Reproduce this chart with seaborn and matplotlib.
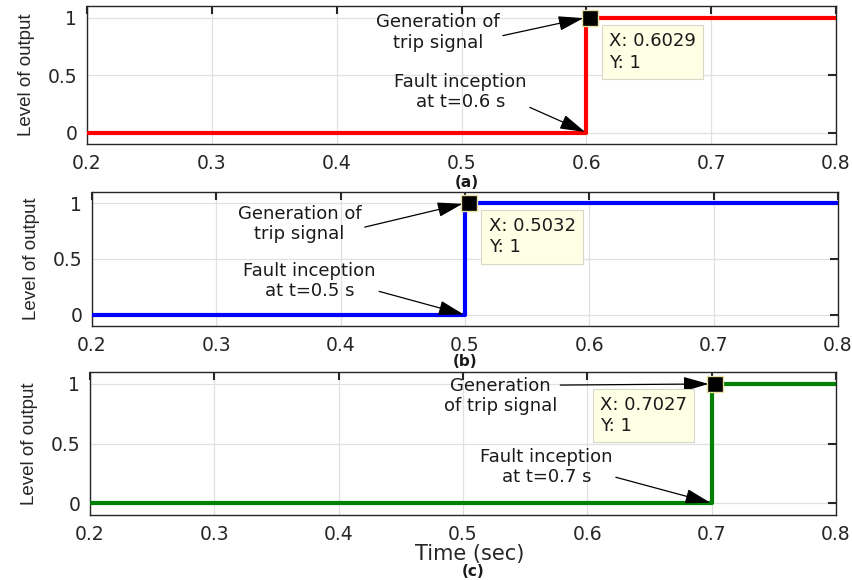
import matplotlib
matplotlib.use("Agg")
import matplotlib.pyplot as plt
import seaborn as sns
import pandas as pd

sns.set_style("white")
plt.rcParams['font.family'] = ['DejaVu Sans']

# ---- data ----
panel_labels = ["(a)", "(b)", "(c)"]
colors = ["#ff0000", "#0000ff", "#008000"]
fault_times = [0.6, 0.5, 0.7]
trip_times = [0.6029, 0.5032, 0.7027]
t_start = 0.2
t_end = 0.8
level_before = 0
level_after = 1
xticks = [0.2, 0.3, 0.4, 0.5, 0.6, 0.7, 0.8]
yticks = [0, 0.5, 1]
ytick_labels = ["0", "0.5", "1"]
fault_texts = ["Fault inception\nat t=0.6 s", "Fault inception\nat t=0.5 s", "Fault inception\nat t=0.7 s"]
gen_texts = ["Generation of\ntrip signal", "Generation of\ntrip signal", "Generation\nof trip signal"]
gen_text_pos = [(0.481, 0.87), (0.367, 0.81), (0.530, 0.90)]
gen_relpos = [(0.86, 0.3), (0.86, 0.3), (0.93, 0.78)]
fault_text_pos = [(0.499, 0.35), (0.375, 0.30), (0.567, 0.30)]
tip_pos = [(0.618, 0.70), (0.519, 0.70), (0.610, 0.735)]
label_px = [(467, 182), (465, 362), (473, 571)]

axes_px = [(87, 6, 836, 144), (92, 192, 838, 326), (90, 372, 836, 515)]
W, H = 852, 580
fig = plt.figure(figsize=(W / 100, H / 100), dpi=100)

txt_color = '#1a1a1a'
for i in range(3):
    l, t, r, b = axes_px[i]
    ax = fig.add_axes([l / W, 1 - b / H, (r - l) / W, (b - t) / H])
    ft, tt = fault_times[i], trip_times[i]
    df = pd.DataFrame({"t": [t_start, ft, ft, t_end],
                       "y": [level_before, level_before, level_after, level_after]})
    sns.lineplot(data=df, x="t", y="y", ax=ax, color=colors[i], lw=3, sort=False,
                 estimator=None, zorder=3)
    ax.plot([tt], [level_after], marker='s', ms=12, mfc='black', mec='#e8e0a0', mew=1, zorder=5)
    ax.set_xlim(t_start, t_end)
    ax.set_ylim(-0.1, 1.1)
    ax.set_xticks(xticks)
    ax.set_xticklabels([f"{v:g}" for v in xticks])
    ax.set_yticks(yticks)
    ax.set_yticklabels(ytick_labels)
    ax.grid(True, color='#e0e0e0', lw=0.9)
    ax.set_axisbelow(True)
    ax.tick_params(direction='in', length=6, width=1.5, top=True, right=True,
                   labelsize=13.5, colors='#262626', pad=7)
    for s in ax.spines.values():
        s.set_color('#262626')
        s.set_linewidth(1)
    ax.set_xlabel("")
    ax.set_ylabel("Level of output", fontsize=13.5, family=['Liberation Sans', 'DejaVu Sans'],
                  color='#262626', labelpad=9)

    # annotations
    ax.annotate(gen_texts[i], xy=(tt - 0.003, level_after), xytext=gen_text_pos[i],
                ha='center', va='center', fontsize=13, color=txt_color, linespacing=1.15,
                arrowprops=dict(arrowstyle='-|>,head_length=1.2,head_width=0.35', color='black', lw=0.9,
                                shrinkA=0, shrinkB=2, relpos=gen_relpos[i]), zorder=6)
    ax.annotate(fault_texts[i], xy=(ft, level_before), xytext=fault_text_pos[i],
                ha='center', va='center', fontsize=13, color=txt_color, linespacing=1.15,
                arrowprops=dict(arrowstyle='-|>,head_length=1.2,head_width=0.35', color='black', lw=0.9,
                                shrinkA=0, shrinkB=1, relpos=(0.8, 0.45)), zorder=6)
    ax.text(tip_pos[i][0], tip_pos[i][1], f"X: {tt}\nY: {level_after}", ha='left', va='center',
            fontsize=13, color=txt_color, linespacing=1.25, zorder=7,
            bbox=dict(boxstyle='square,pad=0.4', fc='#ffffe6', ec='#d8d8c8', lw=0.8))

    fig.text(label_px[i][0] / W, 1 - label_px[i][1] / H, panel_labels[i], ha='center', va='center',
             fontsize=11, fontweight='bold', color=txt_color)

fig.text(470 / W, 1 - 554 / H, "Time (sec)", ha='center', va='center', fontsize=15, color='#262626')

fig.savefig("out.png", dpi=100)
